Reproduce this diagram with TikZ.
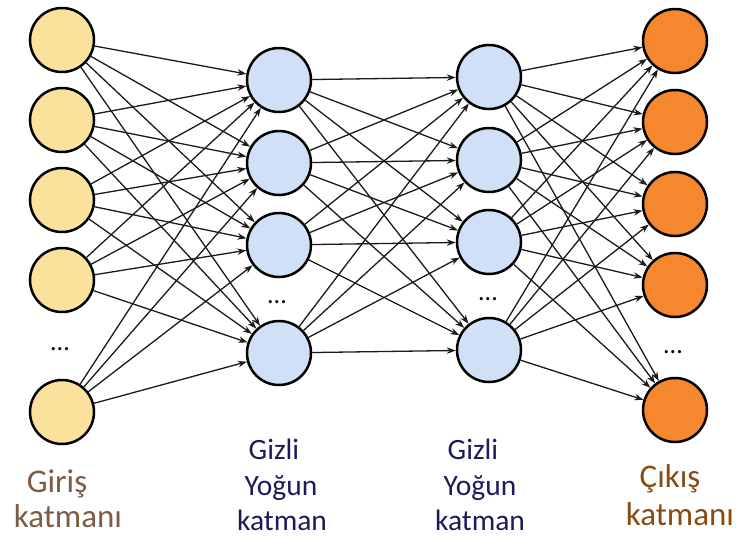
\documentclass[tikz,border=0pt]{standalone}
\usepackage{fontspec}
\setmainfont{Carlito}
\usetikzlibrary{arrows.meta}
\definecolor{inFill}{HTML}{FBE29C}
\definecolor{hidFill}{HTML}{CFE0F7}
\definecolor{outFill}{HTML}{F5872E}
\definecolor{inText}{HTML}{7D5B45}
\definecolor{hidText}{HTML}{1B1B5C}
\definecolor{outText}{HTML}{8A4A12}
\definecolor{wire}{HTML}{1A1A1A}
\begin{document}
\begin{tikzpicture}[x=1pt,y=-1pt,
  neuron/.style={circle, draw=black, line width=2.5pt, minimum size=64pt, inner sep=0pt},
  link/.style={draw=wire, line width=1.3pt, -{Stealth[length=9pt,width=6.5pt]}},
  ellip/.style={anchor=base, font=\fontsize{26}{30}\selectfont},
  bigtag/.style={anchor=base, font=\fontsize{33}{37}\selectfont},
  smalltag/.style={anchor=base, text=hidText, font=\fontsize{29.5}{33}\selectfont}]
\useasboundingbox (0,0) rectangle (736,539);

% input layer
\node[neuron, fill=inFill] (i1) at (62,40) {};
\node[neuron, fill=inFill] (i2) at (62,120) {};
\node[neuron, fill=inFill] (i3) at (62,200) {};
\node[neuron, fill=inFill] (i4) at (62,280) {};
\node[neuron, fill=inFill] (i5) at (62,412) {};
\node[ellip] (idots) at (60,350) {...};

% first hidden layer
\node[neuron, fill=hidFill] (h1) at (279,80) {};
\node[neuron, fill=hidFill] (h2) at (279,163) {};
\node[neuron, fill=hidFill] (h3) at (279,245) {};
\node[neuron, fill=hidFill] (h4) at (279,353) {};
\node[ellip] (hdots) at (277,303) {...};

% second hidden layer
\node[neuron, fill=hidFill] (g1) at (489,77) {};
\node[neuron, fill=hidFill] (g2) at (489,160) {};
\node[neuron, fill=hidFill] (g3) at (489,242) {};
\node[neuron, fill=hidFill] (g4) at (489,350) {};
\node[ellip] (gdots) at (488,300) {...};

% output layer
\node[neuron, fill=outFill] (o1) at (675,41) {};
\node[neuron, fill=outFill] (o2) at (675,122) {};
\node[neuron, fill=outFill] (o3) at (675,204) {};
\node[neuron, fill=outFill] (o4) at (675,285) {};
\node[neuron, fill=outFill] (o5) at (675,410) {};
\node[ellip] (odots) at (673,353) {...};

% fully connected links
\foreach \a in {1,...,5}
  \foreach \b in {1,...,4}
    \draw[link] (i\a) -- (h\b);
\foreach \a in {1,...,4}
  \foreach \b in {1,...,4}
    \draw[link] (h\a) -- (g\b);
\foreach \a in {1,...,4}
  \foreach \b in {1,...,5}
    \draw[link] (g\a) -- (o\b);

% layer captions
\node[bigtag, text=inText] (inA) at (57,492) {Giriş};
\node[bigtag, text=inText] (inB) at (68,527) {katmanı};

\node[smalltag] (hA1) at (274,459) {Gizli};
\node[smalltag] (hA2) at (281,495) {Yoğun};
\node[smalltag] (hA3) at (282,530) {katman};

\node[smalltag] (hB1) at (473,459) {Gizli};
\node[smalltag] (hB2) at (480,495) {Yoğun};
\node[smalltag] (hB3) at (480,530) {katman};

\node[bigtag, text=outText] (outA) at (670,487) {Çıkış};
\node[bigtag, text=outText] (outB) at (680,525) {katmanı};
\end{tikzpicture}
\end{document}
